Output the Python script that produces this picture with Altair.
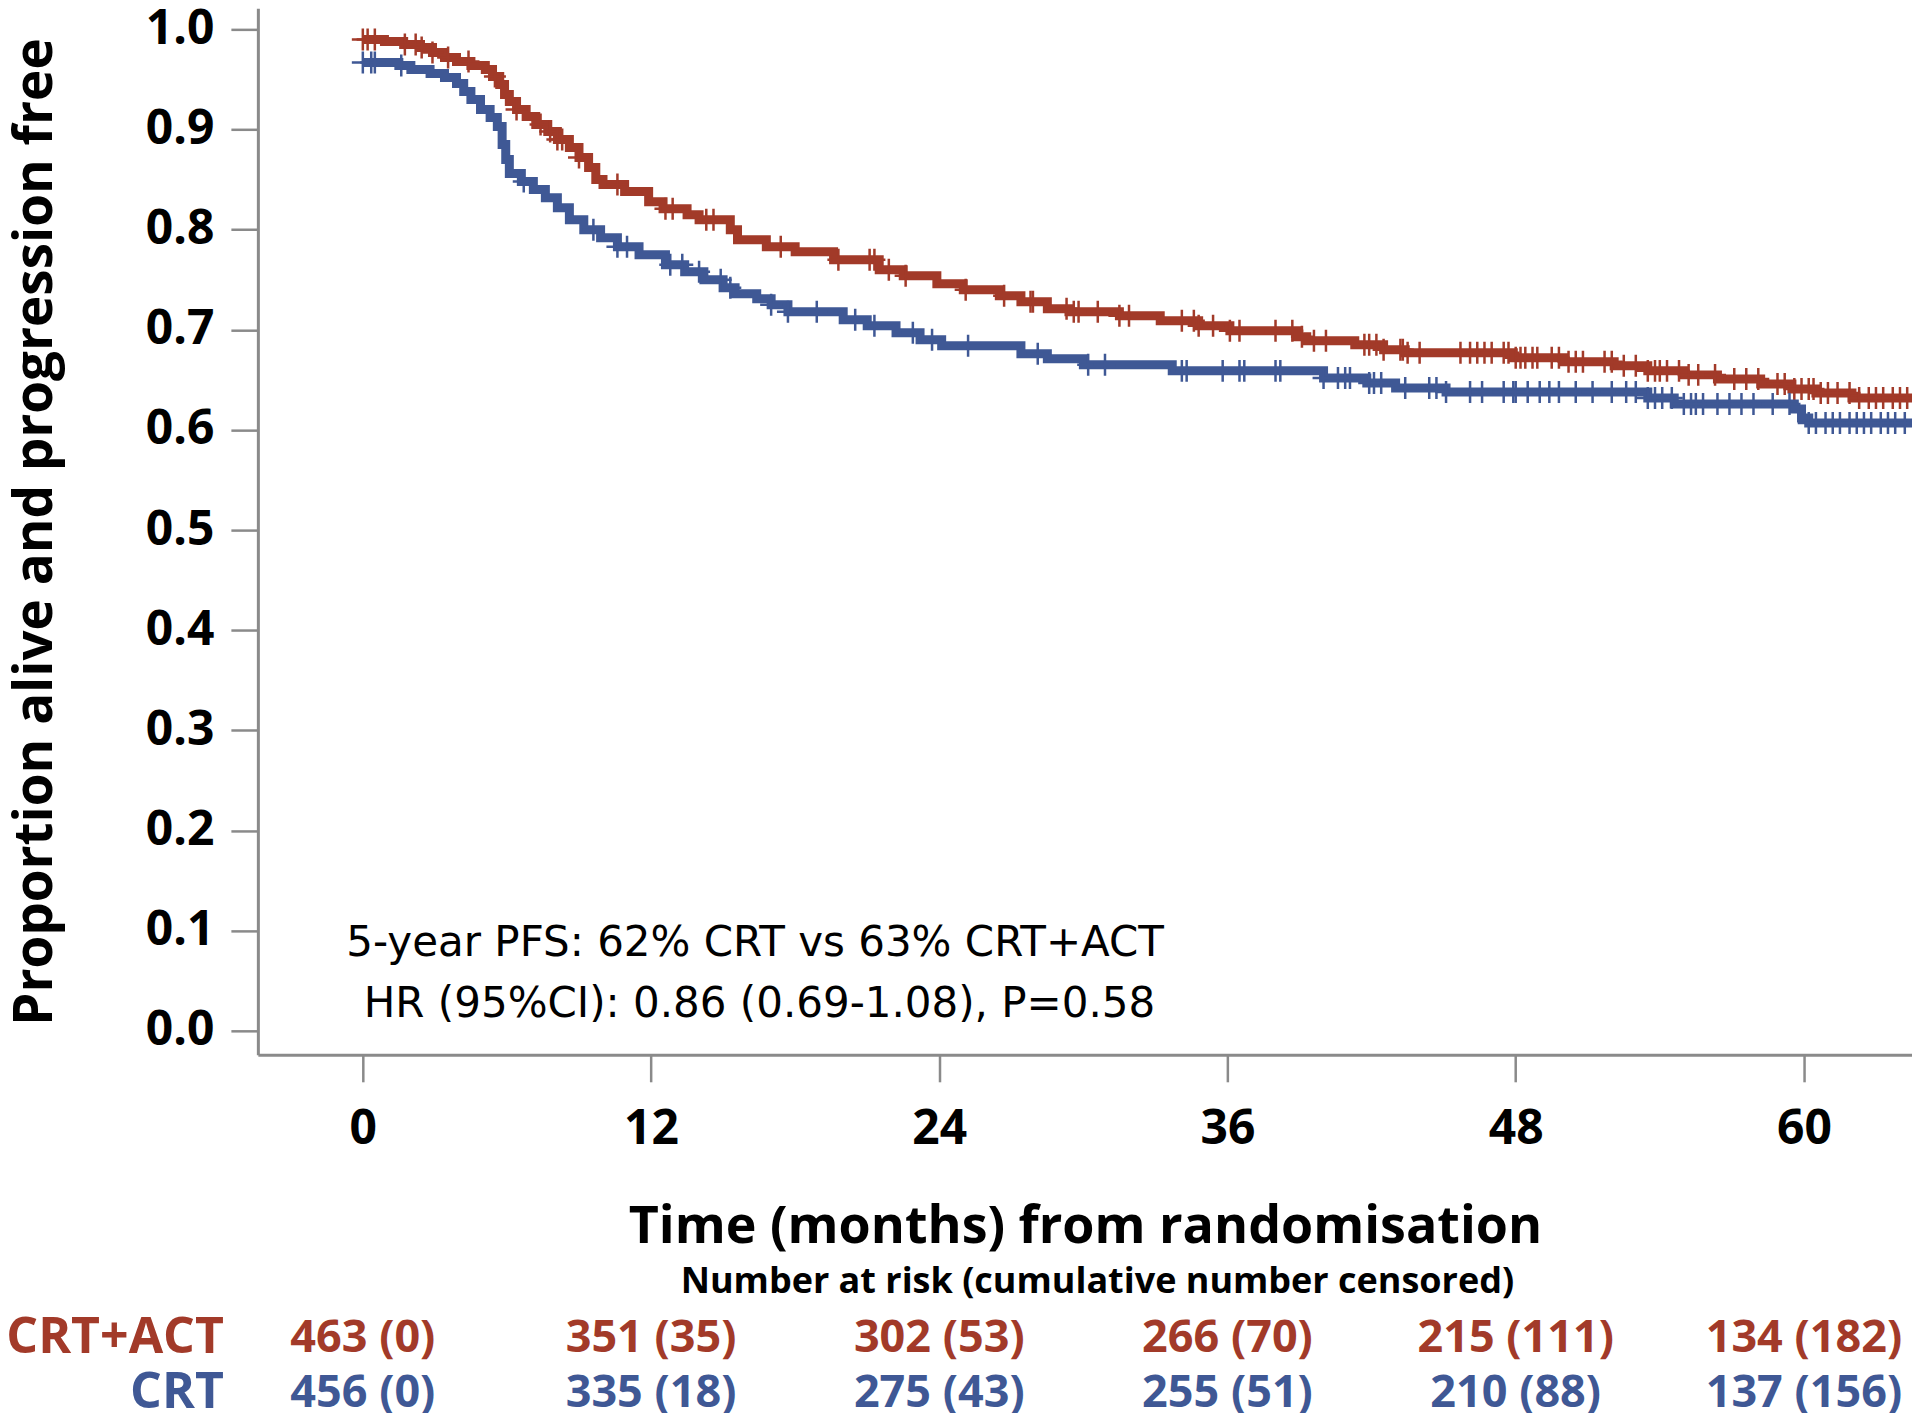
import altair as alt
import pandas as pd

RED = "#a23a29"
BLUE = "#3f5895"
GRAY = "#8a8a8a"
FONT = "Open Sans"

# Kaplan-Meier step points (months, proportion)
red_t = [0, 0.9, 1.7, 2.4, 2.9, 3.4, 3.9, 4.5, 5.1, 5.4, 5.7, 5.9, 6.1, 6.4, 6.8,
         7.2, 7.7, 8.1, 8.6, 9.0, 9.4, 9.7, 10.0, 10.9, 11.9, 12.5, 13.5, 14.0, 15.3, 15.6,
         16.8, 18.0, 19.6, 21.5, 22.5, 23.9, 25.0, 26.5, 27.4, 28.5, 29.4, 31.5, 33.2, 34.8, 36.1,
         38.9, 39.3, 41.3, 42.5, 43.4, 47.9, 50.0, 52.1, 53.5, 55.0, 56.4, 58.2, 59.5, 60.5, 62.0, 64.5]
red_s = [0.990, 0.988, 0.985, 0.982, 0.977, 0.972, 0.968, 0.964, 0.960, 0.953, 0.945, 0.935, 0.928, 0.920, 0.913,
         0.905, 0.898, 0.890, 0.882, 0.872, 0.862, 0.850, 0.845, 0.838, 0.828, 0.821, 0.815, 0.810, 0.800, 0.790,
         0.783, 0.778, 0.770, 0.760, 0.754, 0.746, 0.740, 0.734, 0.728, 0.721, 0.718, 0.714, 0.709, 0.704, 0.699,
         0.693, 0.689, 0.685, 0.680, 0.677, 0.672, 0.668, 0.664, 0.659, 0.655, 0.651, 0.646, 0.641, 0.637, 0.632, 0.628]

blue_t = [0, 1.5, 2.0, 2.8, 3.4, 3.9, 4.2, 4.5, 4.9, 5.3, 5.6, 5.8, 5.95, 6.1, 6.6,
          7.1, 7.6, 8.1, 8.6, 9.2, 9.9, 10.6, 11.5, 12.6, 13.4, 14.2, 15.0, 15.5, 16.4, 17.0,
          17.7, 20.0, 21.0, 22.2, 23.2, 24.1, 27.4, 28.5, 30.0, 33.7, 40.0, 41.8, 43.0, 45.1, 53.5,
          54.6, 59.6, 59.9, 60.2, 64.5]
blue_s = [0.967, 0.964, 0.960, 0.956, 0.952, 0.946, 0.938, 0.930, 0.920, 0.912, 0.903, 0.885, 0.870, 0.856, 0.848,
          0.840, 0.832, 0.822, 0.810, 0.800, 0.792, 0.783, 0.775, 0.765, 0.758, 0.750, 0.742, 0.736, 0.731, 0.725,
          0.718, 0.710, 0.704, 0.697, 0.690, 0.684, 0.676, 0.671, 0.665, 0.659, 0.652, 0.647, 0.642, 0.638, 0.632,
          0.626, 0.621, 0.612, 0.607, 0.604]

# Censoring times
red_cens = [0.0, 0.2, 0.5, 1.75, 2.2, 2.45, 2.9, 3.55, 4.4, 5.5, 6.4, 7.4, 7.8, 8.1, 8.3, 9.0, 10.6,
            12.6, 12.9, 14.3, 14.6, 17.4, 19.8, 21.1, 21.3, 21.9, 22.6, 25.1, 26.7, 27.8, 27.9, 29.3,
            29.6, 29.8, 30.6, 31.5, 31.9, 34.1, 34.6, 34.8, 35.4, 36.1, 36.5, 38.0, 38.7,
            39.1, 39.6, 40.1, 41.7, 41.9, 42.2, 42.5, 43.2, 43.3, 43.5, 44.0, 45.7, 46.1, 46.4, 46.7,
            47.0, 47.5, 47.7, 48.0, 48.2, 48.4, 48.7, 48.9, 49.5, 49.8, 50.2, 50.5, 50.8, 51.7, 52.0,
            52.5, 53.0, 53.5, 53.8, 54.0, 54.3, 54.8, 55.2, 55.6, 56.3, 57.1, 57.6, 58.1, 58.9, 59.2,
            59.6, 59.9, 60.2, 60.4, 60.7, 61.0, 61.4, 61.9, 62.3, 62.7, 63.0, 63.3, 63.7, 64.0, 64.3]
blue_cens = [0.0, 0.35, 0.5, 1.6, 6.7, 9.6, 10.6, 11.0, 12.8, 13.3, 14.0, 14.9, 15.3, 17.0, 17.7,
             18.9, 20.5, 21.3, 22.9, 23.7, 25.2, 28.1, 30.2, 30.9, 34.1, 34.3, 35.8, 36.5, 36.7, 38.0, 38.2,
             40.0, 40.6, 40.9, 41.1, 41.9, 42.1, 42.4, 43.4, 44.4, 44.7, 45.1, 46.1, 46.6, 47.5, 47.9,
             48.0, 48.5, 49.0, 49.4, 49.8, 50.5, 51.2, 52.0, 52.6, 53.0, 53.5, 53.8, 54.1, 54.5, 55.0,
             55.3, 55.5, 55.8, 56.4, 56.9, 57.4, 57.9, 58.7, 59.4, 60.2, 60.5, 60.9, 61.2, 61.5, 61.9,
             62.2, 62.5, 62.8, 63.2, 63.5, 63.8, 64.2]

# Number at risk table
risk_times = [0, 12, 24, 36, 48, 60]
risk_red = ["463 (0)", "351 (35)", "302 (53)", "266 (70)", "215 (111)", "134 (182)"]
risk_blue = ["456 (0)", "335 (18)", "275 (43)", "255 (51)", "210 (88)", "137 (156)"]

x_ticks = [0, 12, 24, 36, 48, 60]
y_ticks = [0.0, 0.1, 0.2, 0.3, 0.4, 0.5, 0.6, 0.7, 0.8, 0.9, 1.0]

ann_text = ["5-year PFS: 62% CRT vs 63% CRT+ACT", "HR (95%CI): 0.86 (0.69-1.08), P=0.58"]
ann_t = [-0.69, 0.04]
ann_s = [0.0878, 0.027]


def step_value(ts, ss, t):
    v = ss[0]
    for tt, s in zip(ts, ss):
        if tt <= t:
            v = s
    return v


red_df = pd.DataFrame({"t": red_t, "s": red_s})
blue_df = pd.DataFrame({"t": blue_t, "s": blue_s})
red_c = pd.DataFrame({"t": red_cens, "s": [step_value(red_t, red_s, c) for c in red_cens]})
blue_c = pd.DataFrame({"t": blue_cens, "s": [step_value(blue_t, blue_s, c) for c in blue_cens]})
ann_df = pd.DataFrame({"t": ann_t, "s": ann_s, "txt": ann_text})
risk_red_df = pd.DataFrame({"t": risk_times, "txt": risk_red})
risk_blue_df = pd.DataFrame({"t": risk_times, "txt": risk_blue})

x_scale = alt.Scale(domain=[-4.37, 64.5], nice=False, zero=False)
y_scale = alt.Scale(domain=[-0.024, 1.021], nice=False, zero=False)

x_axis = alt.Axis(values=x_ticks, title="Time (months) from randomisation", grid=False,
                  domainColor=GRAY, domainWidth=3, tickColor=GRAY, tickWidth=2.5, tickSize=27,
                  labelFont=FONT, labelFontSize=48, labelFontWeight="bold", labelColor="black",
                  labelPadding=24, labelFlush=False, labelOverlap=False,
                  titleFont=FONT, titleFontSize=52, titleFontWeight="bold", titleColor="black",
                  titleBaseline="alphabetic", titleY=188)
y_axis = alt.Axis(values=y_ticks, format=".1f", title="Proportion alive and progression free", grid=False,
                  domainColor=GRAY, domainWidth=3, tickColor=GRAY, tickWidth=2.5, tickSize=27,
                  labelFont=FONT, labelFontSize=48, labelFontWeight="bold", labelColor="black",
                  labelPadding=17, labelFlush=False, labelOverlap=False,
                  titleFont=FONT, titleFontSize=53, titleFontWeight="bold", titleColor="black",
                  titleAngle=270, titleAlign="center", titleBaseline="alphabetic",
                  titleX=-206, titleY=523.5)

X = alt.X("t:Q", scale=x_scale, axis=x_axis)
Y = alt.Y("s:Q", scale=y_scale, axis=y_axis)

PLUS = "M-1,0L1,0M0,-1L0,1"


def km_line(df, color):
    return alt.Chart(df).mark_line(interpolate="step-after", strokeWidth=9, color=color).encode(x=X, y=Y)


def km_cens(df, color):
    return alt.Chart(df).mark_point(shape=PLUS, filled=False, size=484, strokeWidth=2.5,
                                    color=color, opacity=1).encode(x=X, y=Y)


ann = alt.Chart(ann_df).mark_text(align="left", baseline="middle", font="DejaVu Sans", fontSize=42,
                                  color="black").encode(x=X, y=Y, text="txt:N")

risk_red_layer = alt.Chart(risk_red_df).mark_text(align="center", baseline="middle", font=FONT,
                                                  fontSize=45, fontWeight="bold", color=RED).encode(
    x=X, y=alt.value(1330), text="txt:N")
risk_blue_layer = alt.Chart(risk_blue_df).mark_text(align="center", baseline="middle", font=FONT,
                                                    fontSize=45, fontWeight="bold", color=BLUE).encode(
    x=X, y=alt.value(1385), text="txt:N")

lab_df = pd.DataFrame({"txt": ["CRT+ACT", "CRT"], "row": [1330, 1385], "arm": ["CRT+ACT", "CRT"]})
row_labels = alt.Chart(lab_df).mark_text(align="right", baseline="middle", font=FONT, fontSize=50,
                                         fontWeight="bold").encode(
    x=alt.value(-34), y=alt.Y("row:Q", scale=None),
    text="txt:N",
    color=alt.Color("arm:N", scale=alt.Scale(domain=["CRT+ACT", "CRT"], range=[RED, BLUE]), legend=None))

nar_df = pd.DataFrame({"txt": ["Number at risk (cumulative number censored)"]})
nar = alt.Chart(nar_df).mark_text(align="center", baseline="middle", font=FONT, fontSize=36,
                                  fontWeight="bold", color="black").encode(
    x=alt.value(840), y=alt.value(1274), text="txt:N")

chart = alt.layer(
    km_line(red_df, RED), km_cens(red_c, RED),
    km_line(blue_df, BLUE), km_cens(blue_c, BLUE),
    ann, risk_red_layer, risk_blue_layer, row_labels, nar
).properties(
    width=1655, height=1047,
    autosize=alt.AutoSizeParams(type="none"),
    padding={"left": 250, "top": 0, "right": 0, "bottom": 358},
    background="white",
).configure_view(stroke=None)

chart.save("out.html", embed_options={"renderer": "svg", "actions": False})
